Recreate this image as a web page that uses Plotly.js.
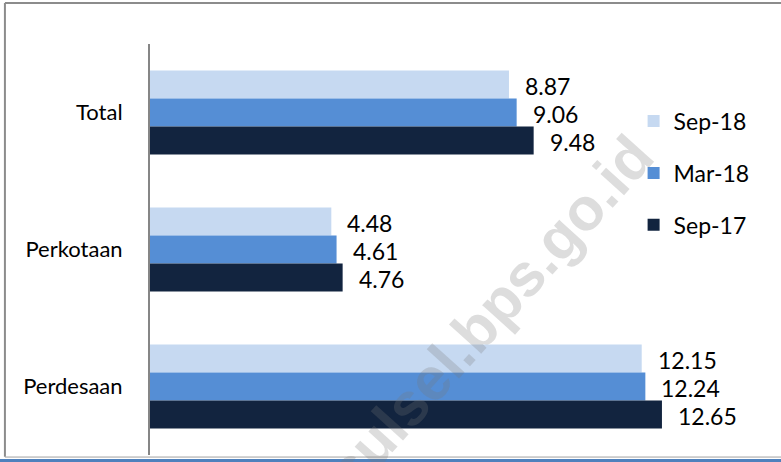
<!DOCTYPE html>
<html>
<head>
<meta charset="utf-8">
<script src="https://cdn.plot.ly/plotly-3.0.1.min.js"></script>
<style>html,body{margin:0;padding:0;background:#fff;}#chart{width:781px;height:462px;}</style>
</head>
<body>
<div id="chart"></div>
<script>
const categories = ["Total", "Perkotaan", "Perdesaan"];
const seriesNames = ["Sep-18", "Mar-18", "Sep-17"];
const sep18 = [8.87, 4.48, 12.15];
const mar18 = [9.06, 4.61, 12.24];
const sep17 = [9.48, 4.76, 12.65];
const watermarkText = "sulsel.bps.go.id";

const seriesValues = [sep18, mar18, sep17];
const colors = ["#C6D9F1", "#558ED5", "#12243F"];
const barPx = 28; // pixel offset of each bar within a group

const traces = seriesValues.map((vals, i) => ({
  type: "bar",
  orientation: "h",
  name: seriesNames[i],
  x: vals,
  y: categories,
  legendgroup: "g" + i,
  marker: { color: colors[i], line: { width: 0 } },
  hoverinfo: "skip"
}));

const annotations = [];
seriesValues.forEach((vals, i) => {
  vals.forEach((v, j) => {
    annotations.push({
      x: v, y: categories[j], xref: "x", yref: "y",
      text: v.toFixed(2), showarrow: false,
      xanchor: "left", yanchor: "middle",
      xshift: 14, yshift: (1 - i) * barPx - 1,
      font: { family: "Lato, 'Open Sans', sans-serif", size: 23, color: "#000" }
    });
  });
});
annotations.push({
  x: 0.548, y: 0.345, xref: "paper", yref: "paper",
  text: "<b>" + watermarkText + "</b>", showarrow: false,
  textangle: -48,
  font: { family: "'Liberation Sans', Arial, sans-serif", size: 60, color: "rgba(120,120,120,0.25)" }
});

const layout = {
  width: 781, height: 462,
  margin: { l: 150, r: 11, t: 44, b: 7, pad: 0 },
  paper_bgcolor: "#ffffff", plot_bgcolor: "rgba(0,0,0,0)",
  barmode: "group", bargap: 0.387, bargroupgap: 0,
  font: { family: "Lato, 'Open Sans', sans-serif", color: "#000" },
  xaxis: { range: [0, 15.32], showgrid: false, zeroline: false, showline: false, showticklabels: false, ticks: "", fixedrange: true },
  yaxis: {
    autorange: "reversed", showgrid: false, zeroline: false,
    showline: true, linecolor: "#868686", linewidth: 2,
    ticks: "", ticklabelstandoff: 21,
    tickfont: { family: "Lato, 'Open Sans', sans-serif", size: 22, color: "#000" },
    fixedrange: true
  },
  showlegend: true,
  legend: {
    x: 0.78, y: 0.686, xanchor: "left", yanchor: "middle",
    traceorder: "grouped", tracegroupgap: 19,
    font: { family: "Lato, 'Open Sans', sans-serif", size: 23, color: "#000" },
    bgcolor: "rgba(0,0,0,0)", borderwidth: 0
  },
  annotations: annotations,
  shapes: [
    { type: "line", xref: "paper", yref: "paper", x0: -0.234, x1: 1.02, y0: 1.0998, y1: 1.0998, line: { color: "#8C8C8C", width: 2 } },
    { type: "line", xref: "paper", yref: "paper", x0: -0.234, x1: -0.234, y0: 1.0998, y1: -0.004, line: { color: "#8C8C8C", width: 2 } },
    { type: "line", xref: "paper", yref: "paper", x0: -0.234, x1: 1.02, y0: -0.005, y1: -0.005, line: { color: "#A0A0A0", width: 1 } },
    { type: "line", xref: "paper", yref: "paper", x0: -0.25, x1: 1.02, y0: -0.0146, y1: -0.0146, line: { color: "#4F81BD", width: 4 } }
  ]
};

Plotly.newPlot("chart", traces, layout, { displayModeBar: false, staticPlot: true });
</script>
</body>
</html>
